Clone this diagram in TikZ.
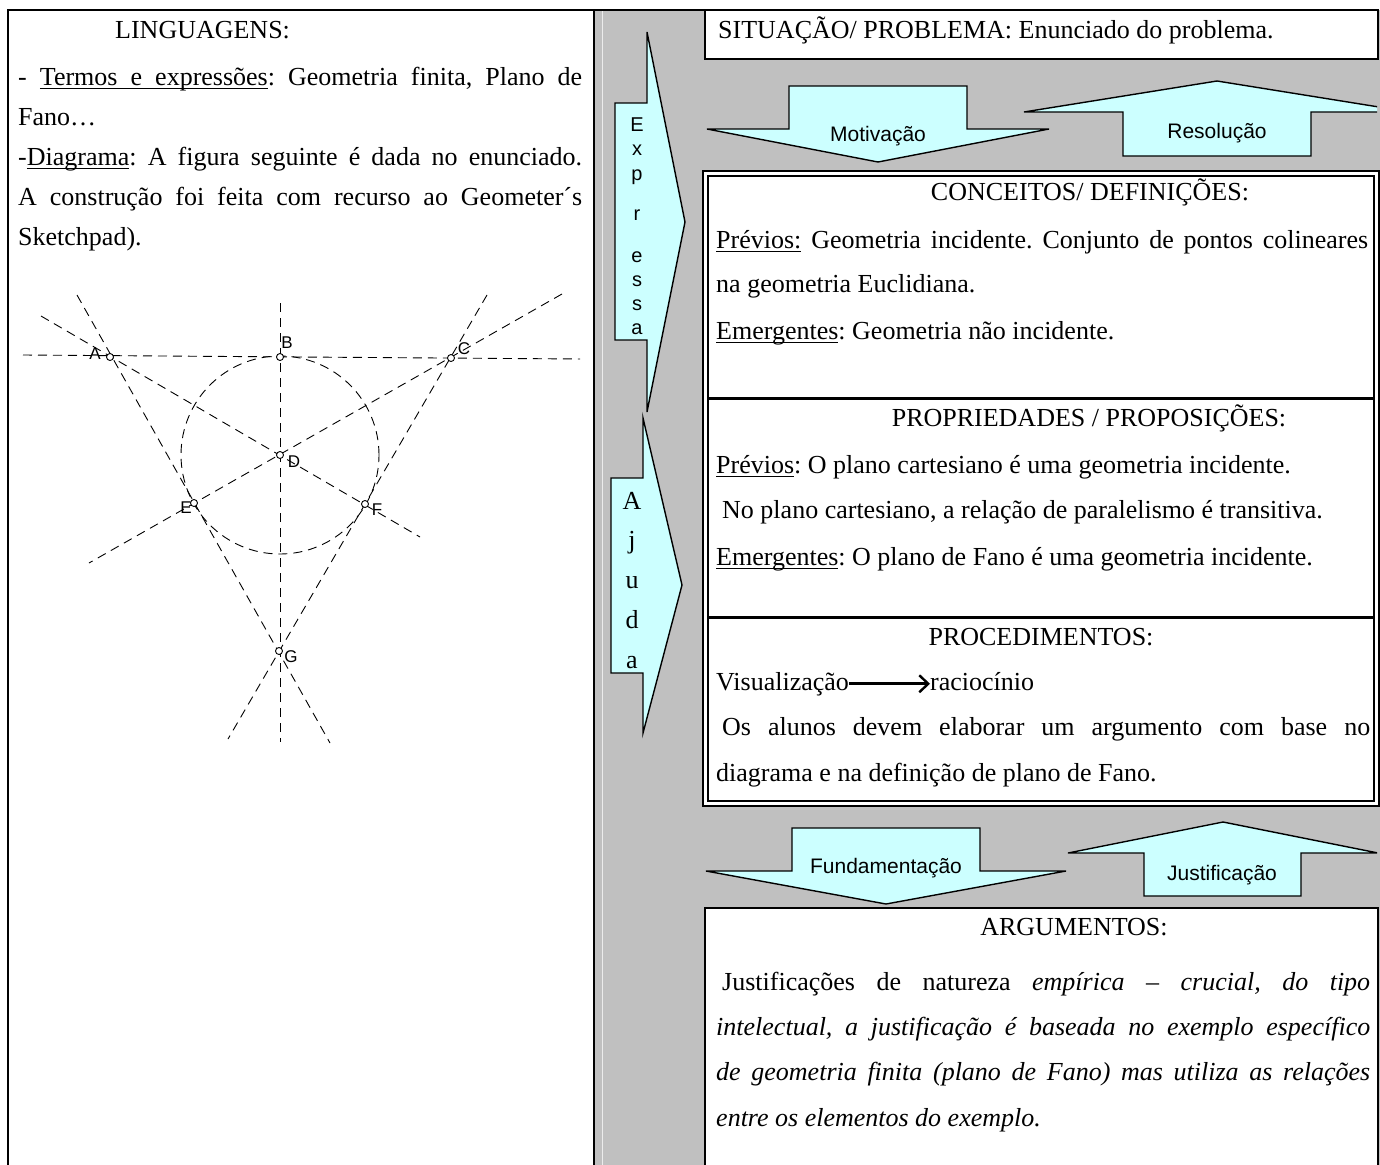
\documentclass[tikz,border=0pt]{standalone}
\usepackage{fontspec}
\setmainfont{Liberation Serif}
\newfontfamily\arialf{Liberation Sans}
\usetikzlibrary{arrows.meta}
\definecolor{bandgray}{RGB}{192,192,192}
\definecolor{paleaqua}{RGB}{204,255,255}
\newcommand{\uwd}[1]{\setbox0=\hbox{#1}\rlap{\vrule height -3pt depth 4.2pt width \wd0}\box0\relax}
\newcommand{\ulsp}{\leaders\hrule height -3pt depth 4.2pt\hskip\fontdimen2\font plus\fontdimen3\font minus\fontdimen4\font\relax}
\frenchspacing
\begin{document}
\begin{tikzpicture}[x=1pt,y=-1pt,
  body/.style={anchor=base west, inner sep=0pt, font=\fontsize{26}{30}\selectfont\frenchspacing},
  ttl/.style={anchor=base, inner sep=0pt, font=\fontsize{26}{30}\selectfont},
  bigarrow/.style={draw=black, fill=paleaqua, line width=1.4pt, line join=miter},
  sanslab/.style={inner sep=0pt, font=\arialf\fontsize{21}{24}\selectfont},
  vletter/.style={anchor=base, inner sep=0pt, font=\arialf\fontsize{20}{22}\selectfont},
  sletter/.style={anchor=base, inner sep=0pt, font=\fontsize{26}{30}\selectfont},
  geoline/.style={line width=0.9pt, dash pattern=on 9pt off 6pt},
  geopt/.style={circle, draw, fill=white, inner sep=0pt, minimum size=7pt, line width=0.9pt},
  geolab/.style={inner sep=0pt, font=\arialf\fontsize{17}{19}\selectfont},
  frame/.style={draw=black, line width=2pt},
]
\useasboundingbox (0,0) rectangle (1380,1164);
\clip (0,0) rectangle (1380,1164);
\fill[white] (0,0) rectangle (1380,1164);
% gray column and bands
\fill[bandgray] (594,10) rectangle (1380,1170);
\draw[white!70!bandgray, line width=1pt] (602,10) -- (602,1170);
% left column
\draw[frame] (8,1170) -- (8,10) -- (594,10) -- (594,1170);
\draw[frame] (594,10) -- (705,10);
% right column boxes
\filldraw[fill=white, frame] (705,10) rectangle (1378,59);
\filldraw[fill=white, draw=black, line width=1.5pt] (703,171) rectangle (1379,806);
\draw[line width=1.5pt] (708,176) rectangle (1374,801);
\draw[line width=3pt] (708,398) -- (1374,398);
\draw[line width=3pt] (708,617) -- (1374,617);
\filldraw[fill=white, frame] (705,908) rectangle (1378,1172);

% vertical arrows
\draw[bigarrow] (647,32) -- (685,222) -- (647,412) -- (647,340) -- (615,340) -- (615,103) -- (647,103) -- cycle;
\draw[bigarrow] (643,418) -- (682,585) -- (643,733) -- (643,673) -- (611,673) -- (611,478) -- (643,478) -- cycle;
\node[vletter] (ex1) at (637,131) {E};
\node[vletter] (ex2) at (637,155) {x};
\node[vletter] (ex3) at (637,180) {p};
\node[vletter] (ex4) at (637,220) {r};
\node[vletter] (ex5) at (637,262) {e};
\node[vletter] (ex6) at (637,286) {s};
\node[vletter] (ex7) at (637,310) {s};
\node[vletter] (ex8) at (637,334) {a};
\node[sletter] (aj1) at (632,509) {A};
\node[sletter] (aj2) at (632,548) {j};
\node[sletter] (aj3) at (632,588) {u};
\node[sletter] (aj4) at (632,628) {d};
\node[sletter] (aj5) at (632,668) {a};

% horizontal band arrows
\draw[bigarrow] (707,129) -- (789,129) -- (789,86) -- (967,86) -- (967,129) -- (1049,129) -- (878,162) -- cycle;
\node[sanslab] (motiv) at (878,136) {Motivação};
\begin{scope}
\clip (705,59) rectangle (1377,171);
\draw[bigarrow] (1024,112) -- (1217,81) -- (1410,112) -- (1311,112) -- (1311,156) -- (1123,156) -- (1123,112) -- cycle;
\end{scope}
\node[sanslab] (resol) at (1217,133) {Resolução};
\draw[bigarrow] (706,871) -- (792,871) -- (792,828) -- (980,828) -- (980,871) -- (1066,871) -- (886,904) -- cycle;
\node[sanslab] (fund) at (886,868) {Fundamentação};
\begin{scope}
\clip (705,806) rectangle (1377,908);
\draw[bigarrow] (1068,853) -- (1223,822) -- (1378,853) -- (1301,853) -- (1301,896) -- (1144,896) -- (1144,853) -- cycle;
\end{scope}
\node[sanslab] (justif) at (1222,875) {Justificação};

% left column text
\node[body] (ling) at (115,38) {LINGUAGENS:};
\node[body] (termos) at (18,85) {\makebox[564pt][s]{- \uwd{Termos}\ulsp\uwd{e}\ulsp\uwd{expressões}: Geometria finita, Plano de}};
\node[body] (fano) at (18,125) {Fano…};
\node[body] (diagr) at (18,165) {\makebox[564pt][s]{-\uwd{Diagrama}: A figura seguinte é dada no enunciado.}};
\node[body] (constr) at (18,205) {\makebox[564pt][s]{A construção foi feita com recurso ao Geometer´s}};
\node[body] (sketch) at (18,245) {Sketchpad).};

% right column text
\node[body] (sit) at (718,38) {SITUAÇÃO/ PROBLEMA: Enunciado do problema.};
\node[ttl] (conc) at (1090,200) {CONCEITOS/ DEFINIÇÕES:};
\node[body] (cprev) at (716,248) {\makebox[652pt][s]{\uwd{Prévios:}\ Geometria incidente. Conjunto de pontos colineares}};
\node[body] (cna) at (716,292) {na geometria Euclidiana.};
\node[body] (cemer) at (716,339) {\uwd{Emergentes}: Geometria não incidente.};
\node[ttl] (prop) at (1089,426) {PROPRIEDADES / PROPOSIÇÕES:};
\node[body] (pprev) at (716,473) {\uwd{Prévios}: O plano cartesiano é uma geometria incidente.};
\node[body] (pno) at (722,518) {No plano cartesiano, a relação de paralelismo é transitiva.};
\node[body] (pemer) at (716,565) {\uwd{Emergentes}: O plano de Fano é uma geometria incidente.};
\node[ttl] (proc) at (1041,645) {PROCEDIMENTOS:};
\node[body] (visu) at (716,690) {Visualização};
\node[body] (racio) at (930,690) {raciocínio};
\draw[line width=2.6pt, -{Straight Barb[length=9pt,width=17pt,line width=2.4pt]}] (visu.east) -- (visu.east -| racio.west);
\node[body] (alunos) at (722,735) {\makebox[648pt][s]{Os alunos devem elaborar um argumento com base no}};
\node[body] (diag) at (716,781) {diagrama e na definição de plano de Fano.};
\node[ttl] (arg) at (1074,935) {ARGUMENTOS:};
\node[body] (j1) at (722,990) {\makebox[648pt][s]{Justificações de natureza \textit{empírica – crucial, do tipo}}};
\node[body] (j2) at (716,1035) {\makebox[654pt][s]{\itshape intelectual, a justificação é baseada no exemplo específico}};
\node[body] (j3) at (716,1080) {\makebox[654pt][s]{\itshape de geometria finita (plano de Fano) mas utiliza as relações}};
\node[body] (j4) at (716,1126) {\itshape entre os elementos do exemplo.};

% geometric figure
\coordinate (A) at (110,357);
\coordinate (B) at (280,357);
\coordinate (C) at (451,358);
\coordinate (D) at (280,455);
\coordinate (E) at (194,503);
\coordinate (F) at (365,504);
\coordinate (G) at (279,651);
\coordinate (h1) at (23,355);  \coordinate (h2) at (580,359);
\coordinate (v1) at (280,303); \coordinate (v2) at (280,742);
\coordinate (a1) at (41,316);  \coordinate (a2) at (420,537);
\coordinate (c1) at (562,294); \coordinate (c2) at (89,563);
\coordinate (e1) at (77,295);  \coordinate (e2) at (330,743);
\coordinate (f1) at (487,295); \coordinate (f2) at (228,739);
\draw[geoline] (h1) -- (h2);
\draw[geoline] (v1) -- (v2);
\draw[geoline] (a1) -- (a2);
\draw[geoline] (c1) -- (c2);
\draw[geoline] (e1) -- (e2);
\draw[geoline] (f1) -- (f2);
\draw[geoline] (D) circle[radius=99pt];
\foreach \p in {A,B,C,D,E,F,G} { \node[geopt] (pt\p) at (\p) {}; }
\node[geolab] (lA) at (95,354) {A};
\node[geolab] (lB) at (287,343) {B};
\node[geolab] (lC) at (464,349) {C};
\node[geolab] (lD) at (294,462) {D};
\node[geolab] (lE) at (186,508) {E};
\node[geolab] (lF) at (377,510) {F};
\node[geolab] (lG) at (291,657) {G};
\end{tikzpicture}
\end{document}
